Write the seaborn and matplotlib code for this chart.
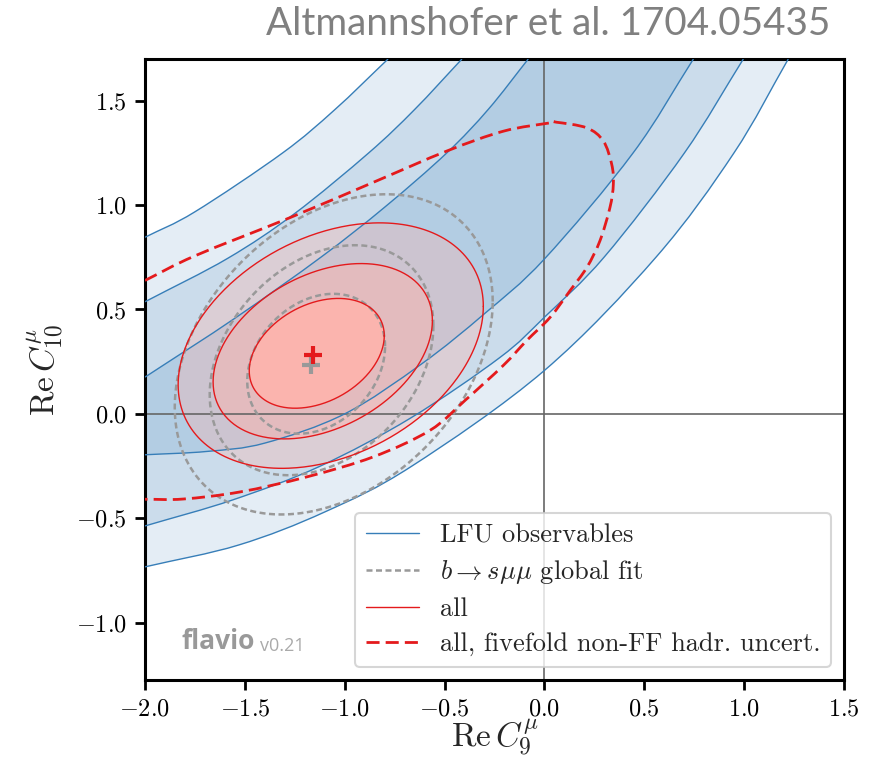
import numpy as np
import matplotlib
matplotlib.use("Agg")
import matplotlib.pyplot as plt
from matplotlib.lines import Line2D
from matplotlib.path import Path
from matplotlib.patches import PathPatch
import seaborn as sns

# ---------------------------------------------------------------- data
x_ticks = [-2.0, -1.5, -1.0, -0.5, 0.0, 0.5, 1.0, 1.5]
y_ticks = [-1.0, -0.5, 0.0, 0.5, 1.0, 1.5]
x_range = (-2.0, 1.5)
y_range = (-1.275, 1.7)

# LFU observables: contour boundaries (upper-left / lower-right edge of each band)
lfu_up3_x = [-2.0, -1.75, -1.311, -1.05, -0.783]
lfu_up3_y = [0.846, 0.968, 1.25, 1.457, 1.70]
lfu_up2_x = [-2.0, -1.586, -1.25, -0.880, -0.65, -0.413]
lfu_up2_y = [0.537, 0.745, 0.960, 1.25, 1.458, 1.70]
lfu_up1_x = [-2.0, -1.55, -1.117, -0.80, -0.489, -0.28, -0.081]
lfu_up1_y = [0.176, 0.458, 0.752, 0.99, 1.25, 1.46, 1.70]
lfu_lo1_x = [-2.0, -1.69, -1.40, -1.0, -0.614, -0.30, 0.0, 0.444, 0.746]
lfu_lo1_y = [-0.196, -0.18, -0.14, 0.0, 0.24, 0.48, 0.742, 1.25, 1.70]
lfu_lo2_x = [-2.0, -1.56, -1.124, -0.67, -0.223, 0.0, 0.30, 0.701, 0.996]
lfu_lo2_y = [-0.537, -0.412, -0.251, -0.02, 0.27, 0.463, 0.752, 1.25, 1.70]
lfu_lo3_x = [-2.0, -1.53, -1.10, -0.665, 0.0, 0.56, 0.949, 1.221]
lfu_lo3_y = [-0.733, -0.628, -0.47, -0.251, 0.208, 0.752, 1.25, 1.70]

# b -> s mu mu global fit: 1/2/3 sigma ellipses (centre, half extents, correlation)
gf_cx = [-1.143, -1.116, -1.055]
gf_cy = [0.240, 0.257, 0.285]
gf_hx = [0.345, 0.560, 0.796]
gf_hy = [0.335, 0.551, 0.767]
gf_rho = [0.25, 0.30, 0.33]
gf_best = (-1.17, 0.232)

# all observables: 1/2/3 sigma ellipses
all_cx = [-1.14, -1.11, -1.07]
all_cy = [0.29, 0.30, 0.327]
all_hx = [0.338, 0.549, 0.764]
all_hy = [0.263, 0.420, 0.588]
all_rho = [0.32, 0.35, 0.32]
all_best = (-1.157, 0.28)

# all observables with fivefold non-FF hadronic uncertainty: 1 sigma contour
five_x = [-2.0, -1.75, -1.274, -0.85, -0.489, -0.206, 0.028, 0.061, 0.212,
          0.295, 0.337, 0.345, 0.328, 0.278, 0.212, 0.128, 0.028, -0.089,
          -0.206, -0.398, -0.573, -0.857, -1.19, -1.524, -1.808, -2.0]
five_y = [0.639, 0.757, 0.94, 1.112, 1.259, 1.354, 1.394, 1.397, 1.370,
          1.307, 1.195, 1.10, 0.988, 0.829, 0.701, 0.59, 0.462, 0.351,
          0.232, 0.064, -0.079, -0.206, -0.302, -0.374, -0.408, -0.409]

legend_labels = ["LFU observables", r"$b\to s\mu\mu$ global fit", "all",
                 "all, fivefold non-FF hadr. uncert."]

# ---------------------------------------------------------------- style
BLUE, BLUE_FILL = "#377eb8", "#b3cde3"
RED, RED_FILL = "#e41a1c", "#fbb4ae"
GREY = "#999999"
level_alpha = [1.0, 0.5, 0.35]   # 1, 2, 3 sigma fill layers

sns.set_theme(style="ticks")
plt.rcParams.update({
    "font.family": "serif",
    "font.serif": ["cmr10", "DejaVu Serif"],
    "mathtext.fontset": "cm",
    "axes.unicode_minus": False,
    "axes.linewidth": 2.2,
    "axes.edgecolor": "black",
    "xtick.major.width": 2.0,
    "ytick.major.width": 2.0,
    "xtick.major.size": 7,
    "ytick.major.size": 7,
    "xtick.color": "black",
    "ytick.color": "black",
})

fig = plt.figure(figsize=(8.75, 7.63), dpi=100)
ax = fig.add_axes([145 / 875, 1 - 680 / 763, 699 / 875, 621 / 763])


def ellipse(cx, cy, hx, hy, rho, n=361):
    t = np.linspace(0, 2 * np.pi, n)
    return (cx + hx * np.cos(t),
            cy + hy * (rho * np.cos(t) + np.sqrt(1 - rho ** 2) * np.sin(t)))


def spline_segments(xs, ys):
    """Smooth Bezier path (Catmull-Rom) running through every given point."""
    p = np.column_stack([xs, ys]).astype(float)
    ext = np.vstack([2 * p[0] - p[1], p, 2 * p[-1] - p[-2]])
    verts, codes = [p[0]], [Path.MOVETO]
    for i in range(len(p) - 1):
        p0, p1, p2, p3 = ext[i], ext[i + 1], ext[i + 2], ext[i + 3]
        verts += [p1 + (p2 - p0) / 6, p2 - (p3 - p1) / 6, p2]
        codes += [Path.CURVE4] * 3
    return verts, codes


def smooth_line(xs, ys, **kw):
    v, c = spline_segments(xs, ys)
    ax.add_patch(PathPatch(Path(v, c), facecolor="none", capstyle="butt", **kw))


def smooth_band(ux, uy, lx, ly, **kw):
    v1, c1 = spline_segments(ux, uy)
    v2, c2 = spline_segments(lx[::-1], ly[::-1])
    c2[0] = Path.LINETO
    v = v1 + v2 + [v1[0]]
    c = c1 + c2 + [Path.CLOSEPOLY]
    ax.add_patch(PathPatch(Path(v, c), lw=0, **kw))


def curve(x, y, **kw):
    sns.lineplot(x=np.asarray(x), y=np.asarray(y), sort=False, estimator=None,
                 ax=ax, legend=False, **kw)


# LFU bands, outermost first
lfu_bands = [
    (lfu_up3_x, lfu_up3_y, lfu_lo3_x, lfu_lo3_y, level_alpha[2]),
    (lfu_up2_x, lfu_up2_y, lfu_lo2_x, lfu_lo2_y, level_alpha[1]),
    (lfu_up1_x, lfu_up1_y, lfu_lo1_x, lfu_lo1_y, level_alpha[0]),
]
for ux, uy, lx, ly, a in lfu_bands:
    smooth_band(ux, uy, lx, ly, facecolor=BLUE_FILL, alpha=a, zorder=1)

# "all" filled regions, outermost first
for i in (2, 1, 0):
    ex, ey = ellipse(all_cx[i], all_cy[i], all_hx[i], all_hy[i], all_rho[i])
    ax.fill(ex, ey, color=RED_FILL, alpha=level_alpha[i], lw=0, zorder=2)

# zero lines
ax.axhline(0, color="0.4", lw=1.2, zorder=2.5)
ax.axvline(0, color="0.4", lw=1.2, zorder=2.5)

# LFU boundary lines
for xs, ys in [(lfu_up3_x, lfu_up3_y), (lfu_up2_x, lfu_up2_y), (lfu_up1_x, lfu_up1_y),
               (lfu_lo1_x, lfu_lo1_y), (lfu_lo2_x, lfu_lo2_y), (lfu_lo3_x, lfu_lo3_y)]:
    smooth_line(xs, ys, edgecolor=BLUE, lw=1.0, zorder=3)

# global fit dashed ellipses
gf_dash = (0, (2.4, 1.4))
for i in range(3):
    ex, ey = ellipse(gf_cx[i], gf_cy[i], gf_hx[i], gf_hy[i], gf_rho[i])
    curve(ex, ey, color=GREY, lw=1.8, linestyle=gf_dash, zorder=4)

# "all" contour lines
for i in range(3):
    ex, ey = ellipse(all_cx[i], all_cy[i], all_hx[i], all_hy[i], all_rho[i])
    curve(ex, ey, color=RED, lw=1.0, zorder=5)

# fivefold uncertainty contour
five_dash = (0, (4.7, 2.2))
smooth_line(five_x, five_y, edgecolor=RED, lw=2.0, linestyle=five_dash, zorder=5)

# best-fit points
ax.plot(*gf_best, marker="+", ms=13, mew=3, color=GREY, zorder=6, ls="none")
ax.plot(*all_best, marker="+", ms=13, mew=3, color=RED, zorder=7, ls="none")

# axes
ax.set_xlim(*x_range)
ax.set_ylim(*y_range)
ax.set_xticks(x_ticks)
ax.set_yticks(y_ticks)
ax.set_xticklabels([f"${v:.1f}$" for v in x_ticks])
ax.set_yticklabels([f"${v:.1f}$" for v in y_ticks])
ax.tick_params(labelsize=17.5, pad=6, direction="out")
ax.set_xlabel(r"$\mathrm{Re}\,C_9^\mu$", fontsize=24, labelpad=-2)
ax.set_ylabel(r"$\mathrm{Re}\,C_{10}^\mu$", fontsize=24, labelpad=8)
for s in ax.spines.values():
    s.set_visible(True)
    s.set_linewidth(2.2)

# legend
handles = [
    Line2D([], [], color=BLUE, lw=1.0),
    Line2D([], [], color=GREY, lw=1.8, linestyle=gf_dash),
    Line2D([], [], color=RED, lw=1.0),
    Line2D([], [], color=RED, lw=2.0, linestyle=five_dash),
]
leg = ax.legend(handles, legend_labels, loc="lower right", fontsize=19.0,
                frameon=True, fancybox=True, framealpha=0.8, edgecolor="0.8",
                handlelength=2.0, labelspacing=0.42, borderaxespad=0.5)
leg.get_frame().set_linewidth(1.5)
leg.set_zorder(10)

# branding
brand = ax.text(0.052, 0.05, "flavio", transform=ax.transAxes, family="Open Sans",
                weight="bold", fontsize=19, color="#999999", va="baseline", zorder=8)
ax.annotate("v0.21", xy=(1, 0), xycoords=brand, xytext=(4, 0),
            textcoords="offset points", family="Open Sans", fontsize=13,
            color="#aaaaaa", va="bottom", zorder=8)

fig.text(0.949, 0.968, "Altmannshofer et al. 1704.05435", ha="right", va="center",
         family="Lato", fontsize=27.8, color="#808080")

fig.savefig("out.png", dpi=100)
